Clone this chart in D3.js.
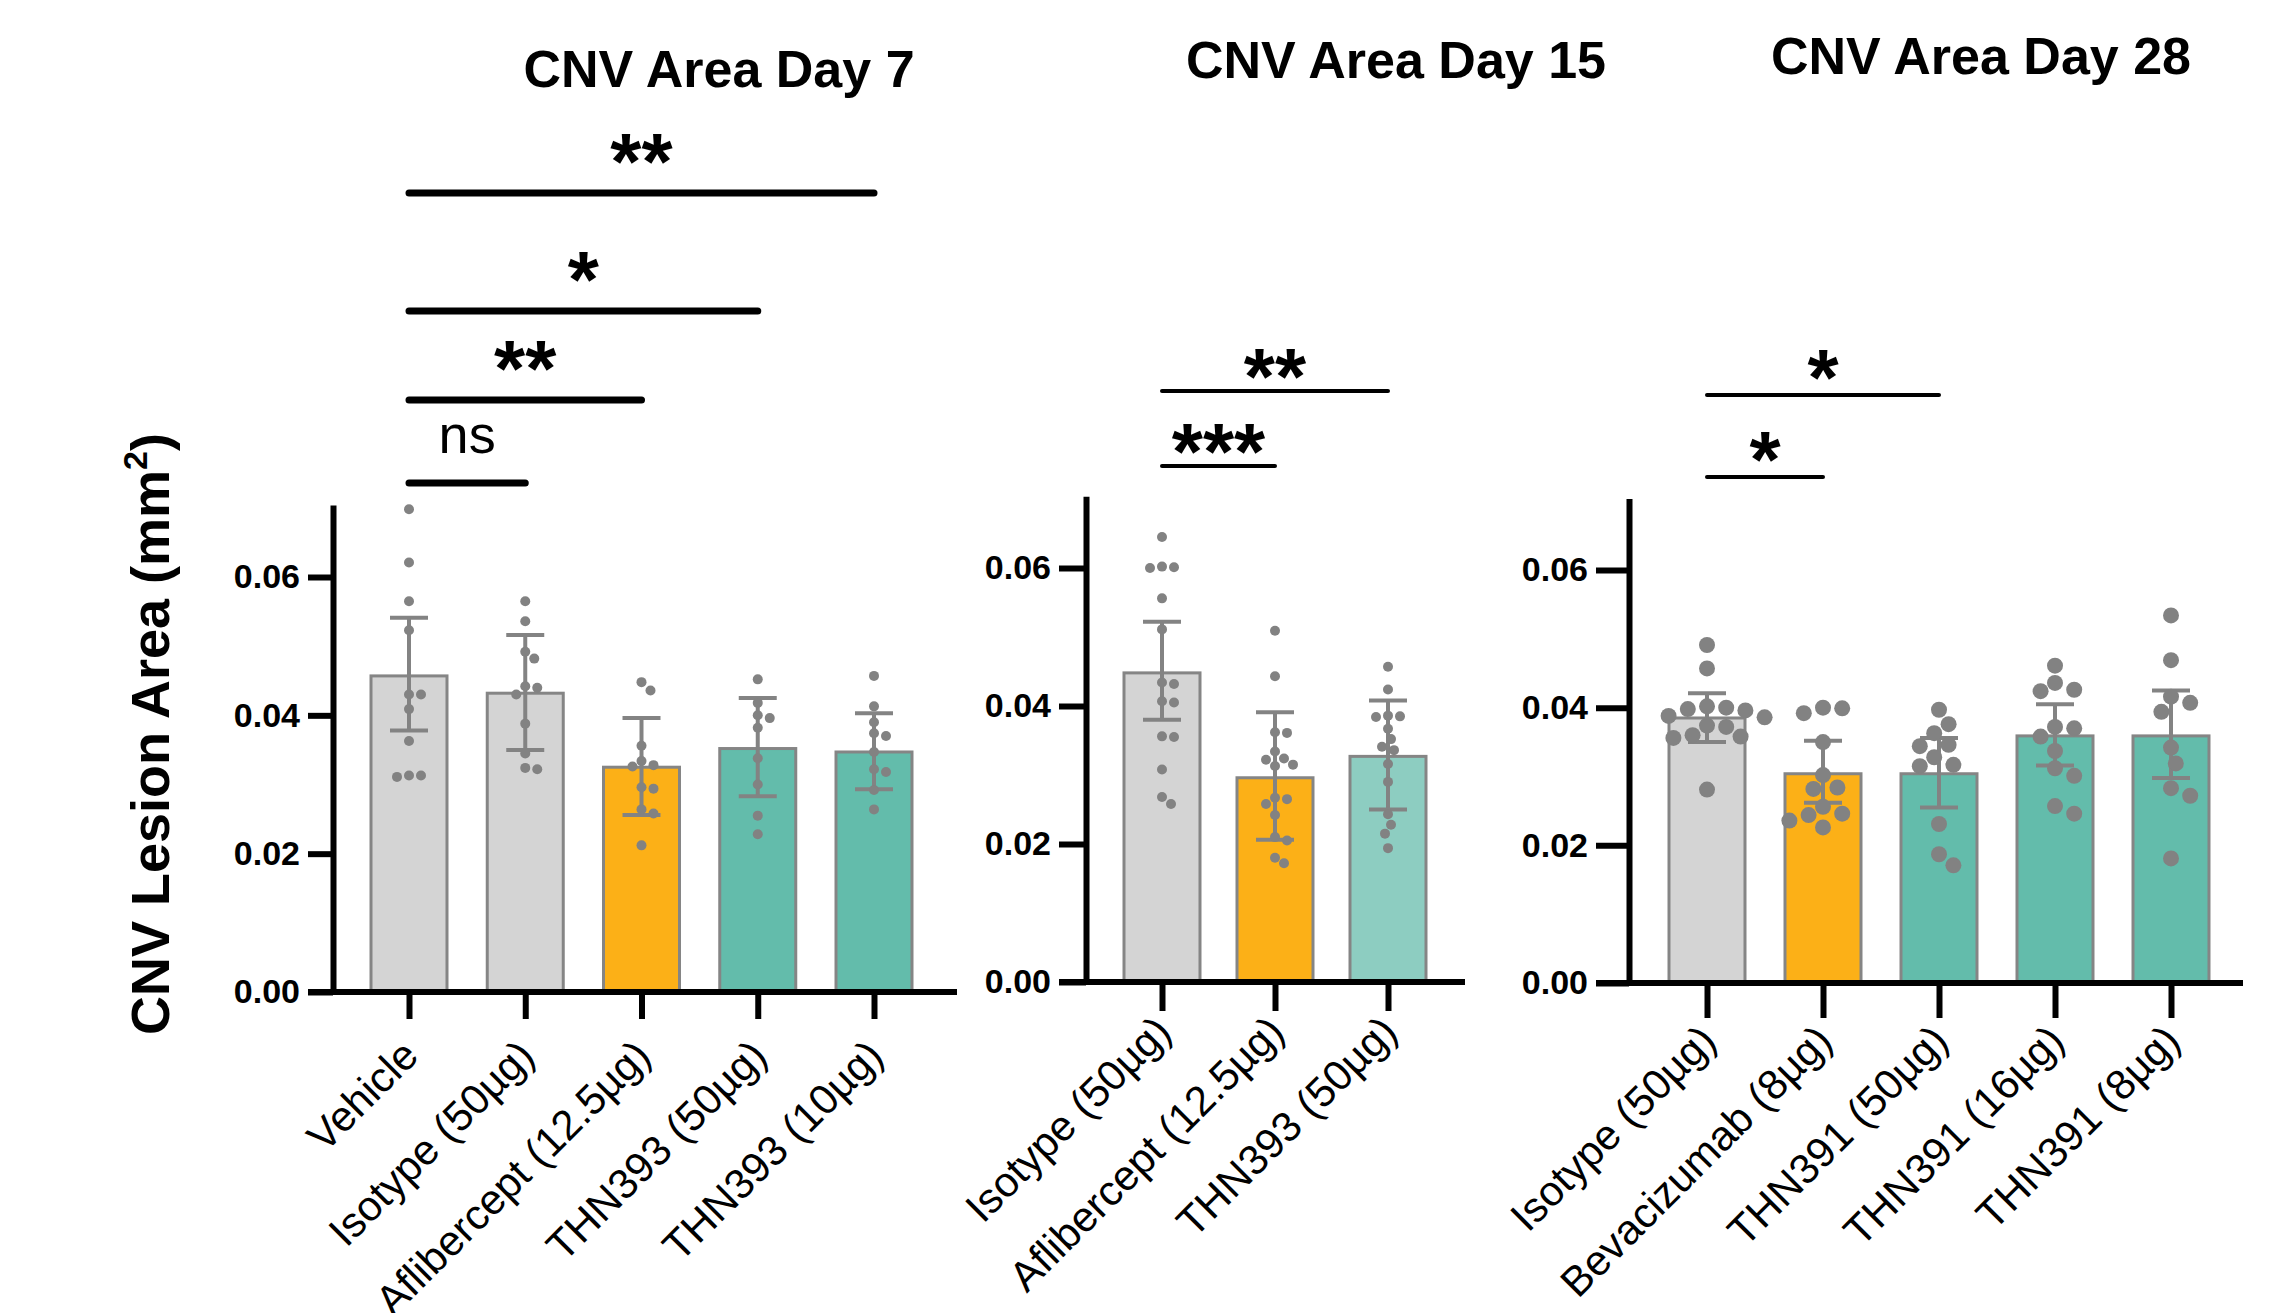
<!DOCTYPE html>
<html>
<head>
<meta charset="utf-8">
<script src="https://cdn.jsdelivr.net/npm/d3@7"></script>
<style>
  body { margin: 0; background: #fff; }
  svg { display: block; }
  text { font-family: "Liberation Sans", Arial, sans-serif; }
</style>
</head>
<body>
<div id="chart"></div>
<script>
// Data (mm^2)
var day7Groups = ["Vehicle", "Isotype (50µg)", "Aflibercept (12.5µg)", "THN393 (50µg)", "THN393 (10µg)"];
var day7Means = [0.0457, 0.0432, 0.0325, 0.0352, 0.0347];
var day7ErrLow = [0.0378, 0.0350, 0.0256, 0.0283, 0.0293];
var day7ErrHigh = [0.0541, 0.0516, 0.0396, 0.0425, 0.0403];
var day7Points = [
  [0.0698, 0.0621, 0.0565, 0.0523, 0.0430, 0.0430, 0.0409, 0.0363, 0.0313, 0.0313, 0.0311],
  [0.0565, 0.0536, 0.0492, 0.0482, 0.0442, 0.0440, 0.0430, 0.0388, 0.0345, 0.0324, 0.0322],
  [0.0448, 0.0436, 0.0356, 0.0334, 0.0328, 0.0326, 0.0296, 0.0294, 0.0264, 0.0258, 0.0212],
  [0.0452, 0.0418, 0.0400, 0.0396, 0.0382, 0.0338, 0.0300, 0.0255, 0.0228],
  [0.0457, 0.0413, 0.0390, 0.0374, 0.0370, 0.0347, 0.0322, 0.0318, 0.0292, 0.0264]
];
var day7Comparisons = [[0, 1, "ns"], [0, 2, "**"], [0, 3, "*"], [0, 4, "**"]];

var day15Groups = ["Isotype (50µg)", "Aflibercept (12.5µg)", "THN393 (50µg)"];
var day15Means = [0.0448, 0.0296, 0.0327];
var day15ErrLow = [0.0380, 0.0206, 0.0250];
var day15ErrHigh = [0.0522, 0.0391, 0.0408];
var day15Points = [
  [0.0645, 0.0602, 0.0601, 0.0600, 0.0556, 0.0511, 0.0434, 0.0432, 0.0407, 0.0405, 0.0356, 0.0355, 0.0308, 0.0268, 0.0258],
  [0.0509, 0.0443, 0.0362, 0.0361, 0.0334, 0.0324, 0.0322, 0.0315, 0.0313, 0.0267, 0.0265, 0.0258, 0.0242, 0.0210, 0.0205, 0.0180, 0.0172],
  [0.0457, 0.0424, 0.0386, 0.0385, 0.0384, 0.0367, 0.0352, 0.0341, 0.0336, 0.0316, 0.0290, 0.0243, 0.0228, 0.0215, 0.0194]
];
var day15Comparisons = [[0, 2, "**"], [0, 1, "***"]];

var day28Groups = ["Isotype (50µg)", "Bevacizumab (8µg)", "THN391 (50µg)", "THN391 (16µg)", "THN391 (8µg)"];
var day28Means = [0.0385, 0.0304, 0.0304, 0.0359, 0.0359];
var day28ErrLow = [0.0350, 0.0262, 0.0255, 0.0316, 0.0298];
var day28ErrHigh = [0.0421, 0.0352, 0.0356, 0.0405, 0.0425];
var day28Points = [
  [0.0491, 0.0457, 0.0402, 0.0400, 0.0398, 0.0396, 0.0388, 0.0386, 0.0374, 0.0372, 0.0360, 0.0358, 0.0356, 0.0281],
  [0.0400, 0.0399, 0.0392, 0.0350, 0.0302, 0.0284, 0.0282, 0.0256, 0.0246, 0.0244, 0.0236, 0.0226],
  [0.0397, 0.0376, 0.0363, 0.0346, 0.0344, 0.0328, 0.0317, 0.0315, 0.0231, 0.0187, 0.0171],
  [0.0461, 0.0436, 0.0426, 0.0424, 0.0372, 0.0370, 0.0358, 0.0337, 0.0312, 0.0301, 0.0257, 0.0246],
  [0.0534, 0.0469, 0.0416, 0.0407, 0.0394, 0.0342, 0.0319, 0.0283, 0.0272, 0.0181]
];
var day28Comparisons = [[0, 2, "*"], [0, 1, "*"]];

var yTicks = [0, 0.02, 0.04, 0.06];

// colours
var gray = "#d4d4d4", orange = "#fcb017", teal = "#63bcab", lightTeal = "#8dcdc1";
var barStroke = "#858585", dotColor = "#828282";

var svgWidth = 2291;
var svgHeight = 1313;

var svg = d3.select("#chart")
  .append("svg")
  .attr("width", svgWidth)
  .attr("height", svgHeight);

// panel layouts (pixels)
var panels = [
  {
    title: "CNV Area Day 7", titleX: 719, titleY: 87,
    groups: day7Groups, means: day7Means, lo: day7ErrLow, hi: day7ErrHigh, points: day7Points,
    colors: [gray, gray, orange, teal, teal], comps: day7Comparisons,
    axisX: 333, zero: 992, y06: 577, xEnd: 957, first: 409, last: 874,
    tickLen: 25, r: 5, labelDx: 11, labelDy: 66,
    brackets: [483, 400, 311, 193], bracketW: 7, starGap: 43, nsGap: 30
  },
  {
    title: "CNV Area Day 15", titleX: 1396, titleY: 78,
    groups: day15Groups, means: day15Means, lo: day15ErrLow, hi: day15ErrHigh, points: day15Points,
    colors: [gray, orange, lightTeal], comps: day15Comparisons,
    axisX: 1086, zero: 982, y06: 568, xEnd: 1465, first: 1162, last: 1388,
    tickLen: 27, r: 5, labelDx: 11, labelDy: 52,
    brackets: [391, 466], bracketW: 4, starGap: 26, nsGap: 30
  },
  {
    title: "CNV Area Day 28", titleX: 1981, titleY: 74,
    groups: day28Groups, means: day28Means, lo: day28ErrLow, hi: day28ErrHigh, points: day28Points,
    colors: [gray, orange, teal, teal, teal], comps: day28Comparisons,
    axisX: 1629, zero: 983, y06: 570, xEnd: 2243, first: 1707, last: 2171,
    tickLen: 33, r: 8, labelDx: 11, labelDy: 60,
    brackets: [395, 477], bracketW: 4, starGap: 29, nsGap: 30
  }
];

var barWidth = 76;
var capHalf = 19;
var axisTop = 0.0704;

// simple beeswarm: spread points that would overlap
function swarm(ys, r) {
  var placed = [];
  var order = ys.map((d, i) => i).sort((a, b) => ys[a] - ys[b]);
  var offsets = new Array(ys.length);
  order.forEach(function (i) {
    var step = r * 0.6;
    for (var k = 0; k < 40; k++) {
      var off = (k % 2 === 1 ? 1 : -1) * Math.ceil(k / 2) * step;
      var ok = placed.every(p => Math.hypot(p[0] - off, p[1] - ys[i]) >= 2 * r + 0.5);
      if (ok) {
        offsets[i] = off;
        placed.push([off, ys[i]]);
        break;
      }
    }
  });
  return offsets;
}

panels.forEach(function (p) {
  var g = svg.append("g");

  var yScale = d3.scaleLinear()
    .domain([0, 0.06])
    .range([p.zero, p.y06]);
  var yAxisScale = yScale.copy().domain([0, axisTop]).range([p.zero, yScale(axisTop)]);

  var xScale = d3.scalePoint()
    .domain(p.groups)
    .range([p.first, p.last]);

  // title
  g.append("text")
    .attr("x", p.titleX)
    .attr("y", p.titleY)
    .attr("text-anchor", "middle")
    .attr("font-size", 52)
    .attr("font-weight", "bold")
    .text(p.title);

  // bars
  g.selectAll(".bar")
    .data(p.groups)
    .enter()
    .append("rect")
    .attr("x", d => xScale(d) - barWidth / 2)
    .attr("y", (d, i) => yScale(p.means[i]))
    .attr("width", barWidth)
    .attr("height", (d, i) => p.zero - yScale(p.means[i]))
    .attr("fill", (d, i) => p.colors[i])
    .attr("stroke", barStroke)
    .attr("stroke-width", 3);

  // error bars
  var err = g.selectAll(".err")
    .data(p.groups)
    .enter()
    .append("g")
    .attr("stroke", "#838383")
    .attr("stroke-width", 4);
  err.append("line")
    .attr("x1", d => xScale(d)).attr("x2", d => xScale(d))
    .attr("y1", (d, i) => yScale(p.lo[i])).attr("y2", (d, i) => yScale(p.hi[i]));
  err.append("line")
    .attr("x1", d => xScale(d) - capHalf).attr("x2", d => xScale(d) + capHalf)
    .attr("y1", (d, i) => yScale(p.hi[i])).attr("y2", (d, i) => yScale(p.hi[i]));
  err.append("line")
    .attr("x1", d => xScale(d) - capHalf).attr("x2", d => xScale(d) + capHalf)
    .attr("y1", (d, i) => yScale(p.lo[i])).attr("y2", (d, i) => yScale(p.lo[i]));

  // individual points
  p.groups.forEach(function (grp, i) {
    var ys = p.points[i].map(v => yScale(v));
    var offs = swarm(ys, p.r);
    g.selectAll(null)
      .data(p.points[i])
      .enter()
      .append("circle")
      .attr("cx", (d, j) => xScale(grp) + offs[j])
      .attr("cy", d => yScale(d))
      .attr("r", p.r)
      .attr("fill", dotColor);
  });

  // y axis
  var yAxis = g.append("g")
    .attr("transform", `translate(${p.axisX},0)`)
    .call(d3.axisLeft(yAxisScale)
      .tickValues(yTicks)
      .tickSize(p.tickLen)
      .tickSizeOuter(0)
      .tickPadding(8)
      .tickFormat(d3.format(".2f")));
  yAxis.selectAll("path, line")
    .attr("stroke", "#000")
    .attr("stroke-width", 6);
  yAxis.selectAll("text")
    .attr("font-size", 34)
    .attr("font-weight", "bold")
    .attr("font-family", "'Liberation Sans', Arial, sans-serif")
    .attr("fill", "#000");

  // x axis baseline
  g.append("line")
    .attr("x1", p.axisX - p.tickLen)
    .attr("x2", p.xEnd)
    .attr("y1", p.zero)
    .attr("y2", p.zero)
    .attr("stroke", "#000")
    .attr("stroke-width", 6);

  var xAxis = g.append("g")
    .attr("transform", `translate(0,${p.zero})`)
    .call(d3.axisBottom(xScale).tickSize(p.tickLen + 2).tickSizeOuter(0));
  xAxis.select(".domain").remove();
  xAxis.selectAll("line")
    .attr("stroke", "#000")
    .attr("stroke-width", 6);
  xAxis.selectAll("text")
    .attr("x", 0)
    .attr("y", 0)
    .attr("dy", 0)
    .attr("transform", `translate(${p.labelDx},${p.labelDy}) rotate(-45)`)
    .attr("text-anchor", "end")
    .attr("font-size", 42)
    .attr("font-family", "'Liberation Sans', Arial, sans-serif")
    .attr("fill", "#000");

  // significance brackets
  p.comps.forEach(function (c, k) {
    var x1 = xScale(p.groups[c[0]]);
    var x2 = xScale(p.groups[c[1]]);
    var ly = p.brackets[k];
    g.append("line")
      .attr("x1", x1).attr("x2", x2)
      .attr("y1", ly).attr("y2", ly)
      .attr("stroke", "#000")
      .attr("stroke-width", p.bracketW)
      .attr("stroke-linecap", "round");
    if (c[2] === "ns") {
      g.append("text")
        .attr("x", (x1 + x2) / 2)
        .attr("y", ly - p.nsGap)
        .attr("text-anchor", "middle")
        .attr("font-size", 54)
        .text(c[2]);
    } else {
      g.append("text")
        .attr("x", (x1 + x2) / 2)
        .attr("y", ly - p.starGap + 39)
        .attr("text-anchor", "middle")
        .attr("font-size", 80)
        .attr("font-weight", "bold")
        .text(c[2]);
    }
  });
});

// shared y label
svg.append("text")
  .attr("transform", "translate(169,734) rotate(-90)")
  .attr("text-anchor", "middle")
  .attr("font-size", 54)
  .attr("font-weight", "bold")
  .call(t => {
    t.append("tspan").text("CNV Lesion Area (mm");
    t.append("tspan").attr("font-size", 34).attr("dy", -22).text("2");
    t.append("tspan").attr("dy", 22).text(")");
  });
</script>
</body>
</html>
